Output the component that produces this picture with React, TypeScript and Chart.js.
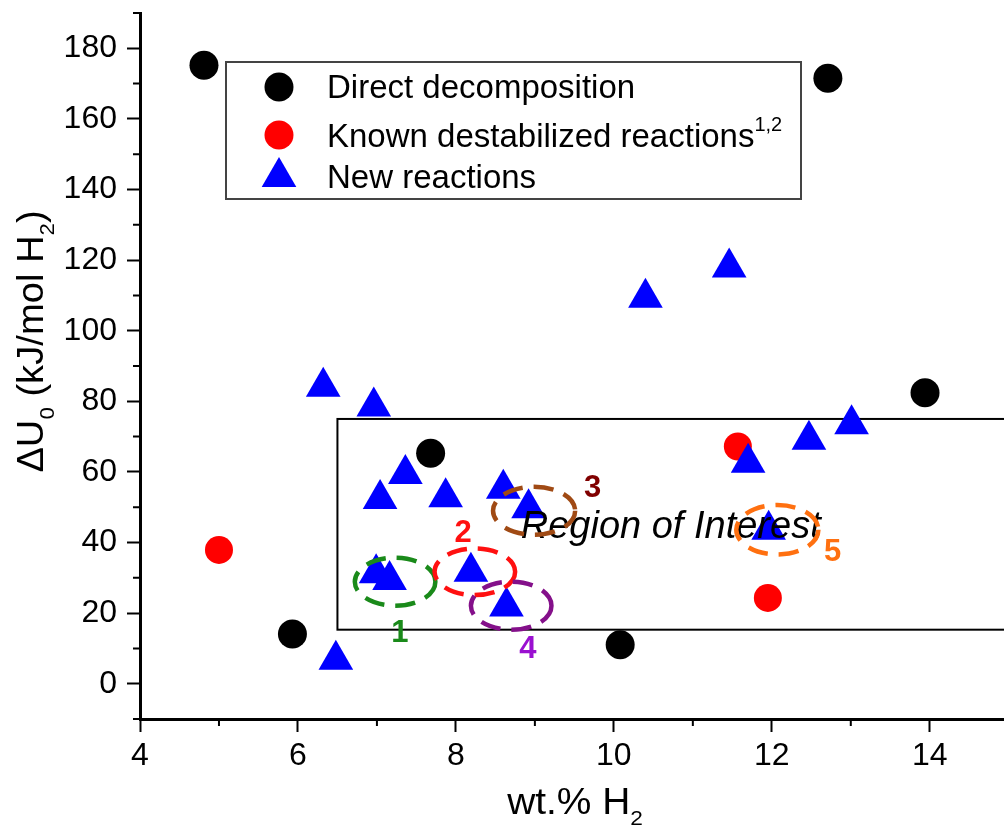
import React, { useEffect, useRef } from "react";
import { Chart, registerables } from "chart.js";

Chart.register(...registerables);

const FONT = "'Liberation Sans', Arial, Helvetica, sans-serif";

// Axis ticks
const xMajorTicks = [4, 6, 8, 10, 12, 14];
const xMinorTicks = [5, 7, 9, 11, 13, 15];
const yMajorTicks = [0, 20, 40, 60, 80, 100, 120, 140, 160, 180];
const yMinorTicks = [-10, 10, 30, 50, 70, 90, 110, 130, 150, 170, 190];
const xRange = [4, 14.94];
const yRange = [-10, 190];

// Series
const seriesLabels = ["Direct decomposition", "Known destabilized reactions", "New reactions"];
const seriesSuperscripts = ["", "1,2", ""];

const directX = [4.81, 12.71, 13.94, 7.68, 5.93, 10.08];
const directY = [175.2, 171.5, 82.4, 65.3, 14.1, 11.0];

const knownX = [5.0, 11.57, 11.95];
const knownY = [37.9, 67.2, 24.3];

const newX = [6.32, 6.96, 10.4, 11.46, 7.36, 7.04, 7.87, 8.6, 8.92, 6.99, 7.16, 8.19, 8.64, 6.48, 11.7, 12.47, 13.01, 11.96];
const newY = [84.1, 78.5, 109.3, 117.9, 59.4, 52.3, 52.8, 55.2, 49.7, 31.3, 29.4, 31.7, 21.9, 6.8, 62.6, 69.1, 73.5, 43.6];

// Region of interest
const regionX = [6.5, 15];
const regionY = [15.3, 75];
const regionText = "Region of Interest";
const regionTextX = 10.72;
const regionTextY = 41.3;

// Highlighted groups (dashed ellipses)
const groupLabels = ["1", "2", "3", "4", "5"];
const groupCX = [7.23, 8.24, 8.99, 8.7, 12.07];
const groupCY = [28.9, 31.7, 49.0, 22.1, 43.6];
const groupRX = [0.51, 0.51, 0.52, 0.51, 0.52];
const groupRY = [6.8, 6.6, 6.8, 6.8, 7.0];
const groupColors = ["#1a8a1a", "#ff1010", "#a04a14", "#84108a", "#ff7010"];
const groupLabelColors = ["#1a8a1a", "#ff1010", "#800000", "#9a10d0", "#ff7010"];
const groupLabelX = [7.29, 8.09, 9.73, 8.91, 12.77];
const groupLabelY = [14.3, 42.7, 55.3, 9.6, 37.2];

const COLORS = ["#000000", "#ff0000", "#0000ff"];

type Run = { text: string; size: number; dy?: number; italic?: boolean; bold?: boolean };

function drawRuns(
  ctx: CanvasRenderingContext2D,
  runs: Run[],
  x: number,
  y: number,
  align: "left" | "center",
  sx = 1
) {
  ctx.textAlign = "left";
  ctx.textBaseline = "alphabetic";
  const widths: number[] = [];
  let total = 0;
  for (const r of runs) {
    ctx.font = `${r.italic ? "italic " : ""}${r.bold ? "bold " : ""}${r.size}px ${FONT}`;
    const w = ctx.measureText(r.text).width;
    widths.push(w);
    total += w;
  }
  const x0 = align === "center" ? x - (total * sx) / 2 : x;
  ctx.save();
  ctx.translate(x0, y);
  ctx.scale(sx, 1);
  let cx = 0;
  runs.forEach((r, i) => {
    ctx.font = `${r.italic ? "italic " : ""}${r.bold ? "bold " : ""}${r.size}px ${FONT}`;
    ctx.fillText(r.text, cx, r.dy || 0);
    cx += widths[i];
  });
  ctx.restore();
}

function drawSymbol(ctx: CanvasRenderingContext2D, kind: string, x: number, y: number, color: string) {
  ctx.fillStyle = color;
  ctx.beginPath();
  if (kind === "triangle") {
    const r = 20;
    ctx.moveTo(x, y - r);
    ctx.lineTo(x + r * Math.sin((2 * Math.PI) / 3), y + r / 2);
    ctx.lineTo(x - r * Math.sin((2 * Math.PI) / 3), y + r / 2);
    ctx.closePath();
  } else {
    ctx.arc(x, y, 14.5, 0, Math.PI * 2);
  }
  ctx.fill();
}

const overlayPlugin = {
  id: "overlay",
  beforeDatasetsDraw(chart: any) {
    const { ctx, scales } = chart;
    const xs = scales.x;
    const ys = scales.y;
    ctx.save();
    ctx.strokeStyle = "#000";
    ctx.lineWidth = 2;
    const x1 = xs.getPixelForValue(regionX[0]);
    const x2 = xs.getPixelForValue(regionX[1]);
    const y1 = ys.getPixelForValue(regionY[1]);
    const y2 = ys.getPixelForValue(regionY[0]);
    ctx.strokeRect(x1, y1, x2 - x1, y2 - y1);
    ctx.restore();
  },
  afterDatasetsDraw(chart: any) {
    const { ctx, scales } = chart;
    const xs = scales.x;
    const ys = scales.y;
    ctx.save();
    ctx.fillStyle = "#000";
    drawRuns(ctx, [{ text: regionText, size: 38, italic: true }], xs.getPixelForValue(regionTextX), ys.getPixelForValue(regionTextY), "center");
    groupLabels.forEach((lab, i) => {
      const cx = xs.getPixelForValue(groupCX[i]);
      const cy = ys.getPixelForValue(groupCY[i]);
      const rx = Math.abs(xs.getPixelForValue(groupCX[i] + groupRX[i]) - cx);
      const ry = Math.abs(ys.getPixelForValue(groupCY[i] + groupRY[i]) - cy);
      ctx.strokeStyle = groupColors[i];
      ctx.lineWidth = 4.5;
      ctx.setLineDash([20, 11]);
      ctx.beginPath();
      ctx.ellipse(cx, cy, rx, ry, 0, 0, Math.PI * 2);
      ctx.stroke();
      ctx.setLineDash([]);
      ctx.fillStyle = groupLabelColors[i];
      ctx.font = `bold 31px ${FONT}`;
      ctx.textAlign = "center";
      ctx.textBaseline = "middle";
      ctx.fillText(lab, xs.getPixelForValue(groupLabelX[i]), ys.getPixelForValue(groupLabelY[i]));
    });
    ctx.restore();
  },
  afterDraw(chart: any) {
    const { ctx, scales, chartArea } = chart;
    const xs = scales.x;
    const ys = scales.y;
    ctx.save();
    ctx.strokeStyle = "#000";
    ctx.lineWidth = 2;
    ctx.beginPath();
    xMinorTicks.forEach((v) => {
      const p = xs.getPixelForValue(v);
      ctx.moveTo(p, chartArea.bottom);
      ctx.lineTo(p, chartArea.bottom + 7);
    });
    yMinorTicks.forEach((v) => {
      const p = ys.getPixelForValue(v);
      ctx.moveTo(chartArea.left, p);
      ctx.lineTo(chartArea.left - 7, p);
    });
    ctx.stroke();

    ctx.fillStyle = "#000";
    drawRuns(
      ctx,
      [
        { text: "wt.% H", size: 36 },
        { text: "2", size: 21, dy: 11 },
      ],
      575,
      814,
      "center",
      1.08
    );
    ctx.save();
    ctx.translate(43, 341.5);
    ctx.rotate(-Math.PI / 2);
    drawRuns(
      ctx,
      [
        { text: "\u0394U", size: 36 },
        { text: "0", size: 21, dy: 11 },
        { text: " (kJ/mol H", size: 36 },
        { text: "2", size: 21, dy: 11 },
        { text: ")", size: 36 },
      ],
      0,
      0,
      "center",
      1.06
    );
    ctx.restore();

    ctx.strokeStyle = "#444";
    ctx.lineWidth = 2;
    ctx.strokeRect(226, 62, 575, 137);
    const symY = [87, 135, 177];
    const textY = [98, 147, 188];
    const kinds = ["circle", "circle", "triangle"];
    seriesLabels.forEach((lab, i) => {
      drawSymbol(ctx, kinds[i], 279, symY[i], COLORS[i]);
      ctx.fillStyle = "#000";
      const runs: Run[] = [{ text: lab, size: 33 }];
      if (seriesSuperscripts[i]) runs.push({ text: seriesSuperscripts[i], size: 20, dy: -16 });
      drawRuns(ctx, runs, 327, textY[i], "left");
    });
    ctx.restore();
  },
};

function toPoints(xs: number[], ys: number[]) {
  return xs.map((x, i) => ({ x, y: ys[i] }));
}

export default function App() {
  const ref = useRef<HTMLCanvasElement | null>(null);
  useEffect(() => {
    document.body.style.margin = "0";
    document.documentElement.style.overflow = "hidden";
    document.body.style.overflow = "hidden";
    const canvas = ref.current!;
    const zeroPad = (s: any) => {
      s.paddingTop = 0;
      s.paddingBottom = 0;
      s.paddingLeft = 0;
      s.paddingRight = 0;
    };
    const chart = new Chart(canvas, {
      type: "scatter",
      data: {
        datasets: [
          {
            label: seriesLabels[0],
            data: toPoints(directX, directY),
            backgroundColor: COLORS[0],
            borderWidth: 0,
            pointStyle: "circle",
            pointRadius: 14.5,
            order: 2,
          },
          {
            label: seriesLabels[1],
            data: toPoints(knownX, knownY),
            backgroundColor: COLORS[1],
            borderWidth: 0,
            pointStyle: "circle",
            pointRadius: 14,
            order: 1,
          },
          {
            label: seriesLabels[2],
            data: toPoints(newX, newY),
            backgroundColor: COLORS[2],
            borderWidth: 0,
            pointStyle: "triangle",
            pointRadius: 20,
            order: 0,
          },
        ],
      },
      options: {
        responsive: false,
        animation: false,
        devicePixelRatio: 1,
        layout: { autoPadding: false, padding: { top: 13, right: 0, left: 0, bottom: 0 } },
        plugins: { legend: { display: false }, tooltip: { enabled: false } },
        scales: {
          x: {
            type: "linear",
            position: "bottom",
            min: xRange[0],
            max: xRange[1],
            afterBuildTicks: (s: any) => {
              s.ticks = xMajorTicks.map((v) => ({ value: v }));
            },
            afterFit: (s: any) => {
              s.height = 109;
              zeroPad(s);
            },
            grid: { drawOnChartArea: false, tickLength: 13, tickWidth: 2, tickColor: "#000" },
            border: { display: true, color: "#000", width: 3 },
            ticks: {
              color: "#000",
              font: { family: FONT, size: 32, lineHeight: 1.2 },
              padding: 5,
              maxRotation: 0,
              autoSkip: false,
            },
          },
          y: {
            type: "linear",
            position: "left",
            min: yRange[0],
            max: yRange[1],
            afterBuildTicks: (s: any) => {
              s.ticks = yMajorTicks.map((v) => ({ value: v }));
            },
            afterFit: (s: any) => {
              s.width = 140;
              zeroPad(s);
            },
            grid: { drawOnChartArea: false, tickLength: 13, tickWidth: 2, tickColor: "#000" },
            border: { display: true, color: "#000", width: 3 },
            ticks: {
              color: "#000",
              font: { family: FONT, size: 32, lineHeight: 1.2 },
              padding: 10,
              autoSkip: false,
            },
          },
        },
      },
      plugins: [overlayPlugin],
    } as any);
    return () => chart.destroy();
  }, []);
  return <canvas ref={ref} width={1004} height={828} style={{ display: "block" }} />;
}
